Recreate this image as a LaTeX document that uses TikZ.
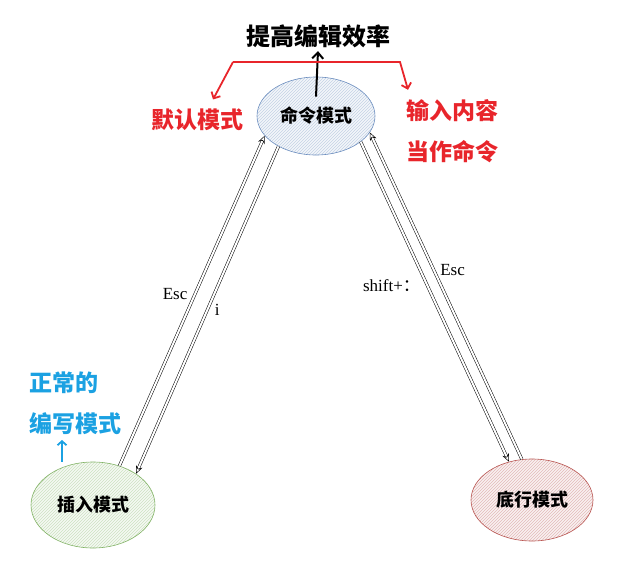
\documentclass[tikz,border=0pt]{standalone}
\usepackage{fontspec}
\newfontfamily\cjk{Noto Sans CJK SC}
\newfontfamily\tms{Liberation Serif}
\usetikzlibrary{arrows.meta,positioning,shapes.geometric,patterns}
\definecolor{cmdblue}{HTML}{6C8EBF}
\definecolor{insgreen}{HTML}{82B366}
\definecolor{botred}{HTML}{B85450}
\definecolor{notered}{HTML}{E8252B}
\definecolor{noteblue}{HTML}{1BA1E2}

\begin{document}
\begin{tikzpicture}[x=1pt,y=-1pt,
    mode/.style={ellipse, draw, semithick, inner sep=0pt, font=\cjk\bfseries\fontsize{18}{20}\selectfont},
    hatch/.style={preaction={fill=#1!8}, pattern=north east lines, pattern color=#1!40},
    trans/.style={draw, double, double distance=2pt, line width=0.5pt, -{Stealth[open,length=8pt,width=7pt]}},
    lbl/.style={font=\tms\fontsize{17}{19}\selectfont},
    note/.style={font=\cjk\bfseries\fontsize{23}{41}\selectfont, align=left},
    redline/.style={draw=notered, line width=1.8pt, -{Straight Barb[length=5pt,width=10pt]}}
  ]
    \useasboundingbox (0,0) rectangle (632,578);
    % modes
    \node[mode, draw=cmdblue, hatch=cmdblue, minimum width=118pt, minimum height=78pt] (cmd) at (316,116) {命令模式};
    \node[mode, draw=insgreen, hatch=insgreen, minimum width=124pt, minimum height=86pt] (ins) at (93,505) {插入模式};
    \node[mode, draw=botred, hatch=botred, minimum width=122pt, minimum height=82pt] (bot) at (532,500) {底行模式};
    % notes
    \node[font=\cjk\bfseries\fontsize{24}{26}\selectfont] (goal) at (318,36) {提高编辑效率};
    \node[note, text=notered] (dflt) at (197,120) {默认模式};
    \node[note, text=notered] (inp) at (452,131) {输入内容\\当作命令};
    \node[note, text=noteblue] (nrm) at (75,403) {正常的\\编写模式};
    % transitions
    \draw[trans] (ins.56) -- node[lbl, left=4pt, pos=0.52] {Esc} (cmd.201);
    \draw[trans] (cmd.219) -- node[lbl, right=4pt, pos=0.50] {i} (ins.36);
    \draw[trans] (cmd.330) -- node[lbl, left=4pt, pos=0.45] {shift+{\cjk ：}} (bot.121);
    \draw[trans] (bot.104) -- node[lbl, right=3pt, pos=0.58] {Esc} (cmd.343);
    % annotations
    \draw[line width=2pt, -{Straight Barb[length=6pt,width=11pt]}] ([yshift=-20pt]cmd.north) -- (goal.south);
    \coordinate (rl) at (233,62);
    \coordinate (rr) at (400,62);
    \draw[redline] (rl) -- (rr) -- ([xshift=-44pt,yshift=6pt]inp.north);
    \draw[redline] (rl) -- ([xshift=16pt,yshift=6pt]dflt.north);
    \coordinate (up) at (62,440);
    \draw[draw=noteblue, line width=1.8pt, -{Straight Barb[length=4pt,width=9pt]}] (up |- ins.north) -- (up);
\end{tikzpicture}
\end{document}
